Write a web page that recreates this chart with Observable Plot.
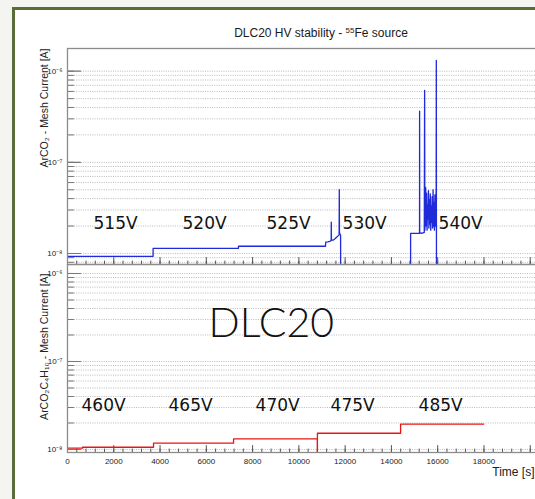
<!DOCTYPE html>
<html>
<head>
<meta charset="utf-8">
<script src="https://cdn.jsdelivr.net/npm/d3@7"></script>
<script src="https://cdn.jsdelivr.net/npm/@observablehq/plot@0.6"></script>
<style>
html, body { margin: 0; padding: 0; background: #f4f4f1; overflow: hidden; }
#page { position: relative; width: 535px; height: 499px; overflow: hidden; background: #f4f4f1; }
#card { position: absolute; left: 12px; top: 7px; width: 700px; height: 700px; background: #fff;
        border-left: 3px solid #5a6c3a; border-top: 3px solid #5a6c3a; }
#title { position: absolute; left: 0; top: 26px; width: 642px; text-align: center;
         font: 12px "Liberation Sans", Arial, sans-serif; color: #1a1a1a; line-height: 14px; }
#title sup { font-size: 8px; vertical-align: 4px; line-height: 0; }
.panel { position: absolute; left: 0; }
.panel svg, svg.plot { max-width: none !important; background: transparent !important; overflow: visible; }
</style>
</head>
<body>
<div id="page">
  <div id="card"></div>
  <div id="title">DLC20 HV stability - <sup>55</sup>Fe source</div>
  <div id="upper" class="panel" style="top:0px"></div>
  <div id="lower" class="panel" style="top:264px"></div>
</div>
<script>
// ---------- data ----------
// Upper panel: ArCO2, blue
const blueT = [0, 3700, 3700, 7390, 7390, 11150, 11160, 11250, 11330, 11395, 11401, 11408, 11480, 11560, 11620, 11680, 11740, 11747, 11755, 11790, 11803,
               11810, 14829,
               14829, 15215, 15218, 15222, 15300, 15420, 15435, 15445, 15480, 15500, 15520, 15540, 15560, 15580, 15600, 15620, 15640, 15660, 15680, 15700, 15720, 15740, 15760, 15780, 15800, 15820, 15840, 15860, 15880, 15900, 15935, 15940, 15945, 15950];
const blueI = [9.3e-9, 9.3e-9, 1.14e-8, 1.14e-8, 1.2e-8, 1.2e-8, 1.33e-8, 1.34e-8, 1.36e-8, 1.38e-8, 2.2e-8, 1.4e-8, 1.4e-8, 1.45e-8, 1.5e-8, 1.55e-8, 1.6e-8, 5.0e-8, 1.7e-8, 1.6e-8, 1.6e-8,
               1e-9, 1e-9,
               1.66e-8, 1.66e-8, 3.64e-7, 1.7e-8, 1.66e-8, 1.7e-8, 6.14e-7, 1.8e-8, 5.3e-8, 2.0e-8, 4.6e-8, 1.8e-8, 3.4e-8, 2.4e-8, 4.9e-8, 1.9e-8, 3.9e-8, 2.1e-8, 4.5e-8, 1.8e-8, 3.3e-8, 2.2e-8, 4.2e-8, 1.9e-8, 5.0e-8, 2.0e-8, 3.6e-8, 1.8e-8, 4.4e-8, 2.0e-8, 5.4e-8, 1.31e-6, 3e-8, 1e-9];

// Lower panel: ArCO2C4H10, red
const redT = [0, 650, 650, 3718, 3718, 7177, 7177, 10796, 10798, 10802, 14397, 14397, 17985];
const redI = [1.035e-8, 1.035e-8, 1.06e-8, 1.06e-8, 1.18e-8, 1.18e-8, 1.32e-8, 1.32e-8, 1e-9, 1.53e-8, 1.53e-8, 1.94e-8, 1.94e-8];

// Voltage annotations
const upperLabels = ["515V", "520V", "525V", "530V", "540V"];
const upperLabelT = [1124, 4972, 8603, 11889, 16040];
const upperLabelI = [2.13e-8, 2.13e-8, 2.13e-8, 2.13e-8, 2.13e-8];
const lowerLabels = ["460V", "465V", "470V", "475V", "485V"];
const lowerLabelT = [605, 4367, 8128, 11370, 15175];
const lowerLabelI = [3.12e-8, 3.12e-8, 3.12e-8, 3.12e-8, 3.12e-8];
const bigLabel = ["DLC20"];
const bigLabelT = [6096];
const bigLabelI = [2.7e-7];

// Axes
const xDomain = [0, 20400];
const xMajorTicks = [0, 2000, 4000, 6000, 8000, 10000, 12000, 14000, 16000, 18000, 20000];
const xTickValues = [0, 2000, 4000, 6000, 8000, 10000, 12000, 14000, 16000, 18000];
const xTickLabels = ["0", "2000", "4000", "6000", "8000", "10000", "12000", "14000", "16000", "18000"];
const yMajorTicks = [1e-8, 1e-7, 1e-6];
const yTickLabels = ["10\u207B\u2078", "10\u207B\u2077", "10\u207B\u2076"];
const upperDomain = [7.57e-9, 1.774e-6];
const lowerDomain = [9.24e-9, 1.265e-6];
const upperTitle = "ArCO\u2082 - Mesh Current [A]";
const lowerTitle = "ArCO\u2082C\u2084H\u2081\u2080 - Mesh Current [A]";
const xTitle = "Time [s]";

// ---------- drawing ----------
const xMinorTicks = d3.range(0, xDomain[1], 400);
const tickShape = {draw(context, l) { context.moveTo(0, 0); context.lineTo(0, -l); }};
const yLabelOf = d => yTickLabels[yMajorTicks.findIndex(v => Math.abs(Math.log10(v) - Math.log10(d)) < 1e-6)];
const xLabelOf = d => xTickLabels[xTickValues.indexOf(d)];

function panel({yDomain, height, marginTop, marginBottom, t, i, color, labels, labelT, labelI, yTitle, titleDy, bottomAxis}) {
  const grid = d3.scaleLog().domain(yDomain).ticks();
  const marks = [
    Plot.ruleY(grid, {stroke: "#a8a8a8", strokeWidth: 0.8, strokeDasharray: "1,1.3"}),
    Plot.vector(grid, {y: d => d, frameAnchor: "left", length: 6, rotate: 90, anchor: "start", shape: tickShape, stroke: "#777", strokeWidth: 1}),
    Plot.vector(yMajorTicks, {y: d => d, frameAnchor: "left", length: 13, rotate: 90, anchor: "start", shape: tickShape, stroke: "#777", strokeWidth: 1.2}),
    Plot.vector(xMinorTicks, {x: d => d, frameAnchor: "bottom", length: 3.5, rotate: 0, anchor: "start", shape: tickShape, stroke: "#555", strokeWidth: 1}),
    Plot.vector(xMajorTicks, {x: d => d, frameAnchor: "bottom", length: 7, rotate: 0, anchor: "start", shape: tickShape, stroke: "#555", strokeWidth: 1}),
    Plot.text(yMajorTicks, {y: d => d, frameAnchor: "left", text: yLabelOf, textAnchor: "end", dx: -5, fontSize: 8, fill: "#222"}),
    Plot.line(t, {x: t, y: i, stroke: color, strokeWidth: 1.3, clip: true}),
    Plot.text(labels, {x: labelT, y: labelI, text: d => d, textAnchor: "start", fontSize: 17, fontFamily: "DejaVu Sans, Verdana, sans-serif", fill: "#111"}),
    Plot.text([yTitle], {frameAnchor: "top-left", dx: -27, dy: titleDy, rotate: -90, textAnchor: "end", fontSize: 10.5, fill: "#222"}),
    Plot.frame({stroke: "#8c8c8c", strokeWidth: 1.3})
  ];
  if (bottomAxis) {
    marks.push(
      Plot.text(xTickValues, {x: d => d, frameAnchor: "bottom", text: xLabelOf, lineAnchor: "top", dy: 6, fontSize: 8, fill: "#222"}),
      Plot.text([xTitle], {frameAnchor: "bottom-right", dx: -5, dy: 23, textAnchor: "end", fontSize: 12, fill: "#222"}),
      Plot.text(bigLabel, {x: bigLabelT, y: bigLabelI, text: d => d, textAnchor: "start", fontSize: 41, fontFamily: "Lato, sans-serif", fontWeight: 300, fill: "#111"})
    );
  }
  return Plot.plot({
    width: 560, height, marginTop, marginBottom, marginLeft: 67, marginRight: 21,
    style: {fontFamily: "'Liberation Sans', Arial, sans-serif", background: "transparent", maxWidth: "none", overflow: "visible"},
    x: {domain: xDomain, axis: null},
    y: {type: "log", domain: yDomain, axis: null},
    marks
  });
}

document.getElementById("upper").appendChild(panel({
  yDomain: upperDomain, height: 264, marginTop: 48, marginBottom: 0,
  t: blueT, i: blueI, color: "#1f2ad8",
  labels: upperLabels, labelT: upperLabelT, labelI: upperLabelI,
  yTitle: upperTitle, titleDy: 0, bottomAxis: false
}));
document.getElementById("lower").appendChild(panel({
  yDomain: lowerDomain, height: 235, marginTop: 0, marginBottom: 47,
  t: redT, i: redI, color: "#e81515",
  labels: lowerLabels, labelT: lowerLabelT, labelI: lowerLabelI,
  yTitle: lowerTitle, titleDy: 9, bottomAxis: true
}));
</script>
</body>
</html>
